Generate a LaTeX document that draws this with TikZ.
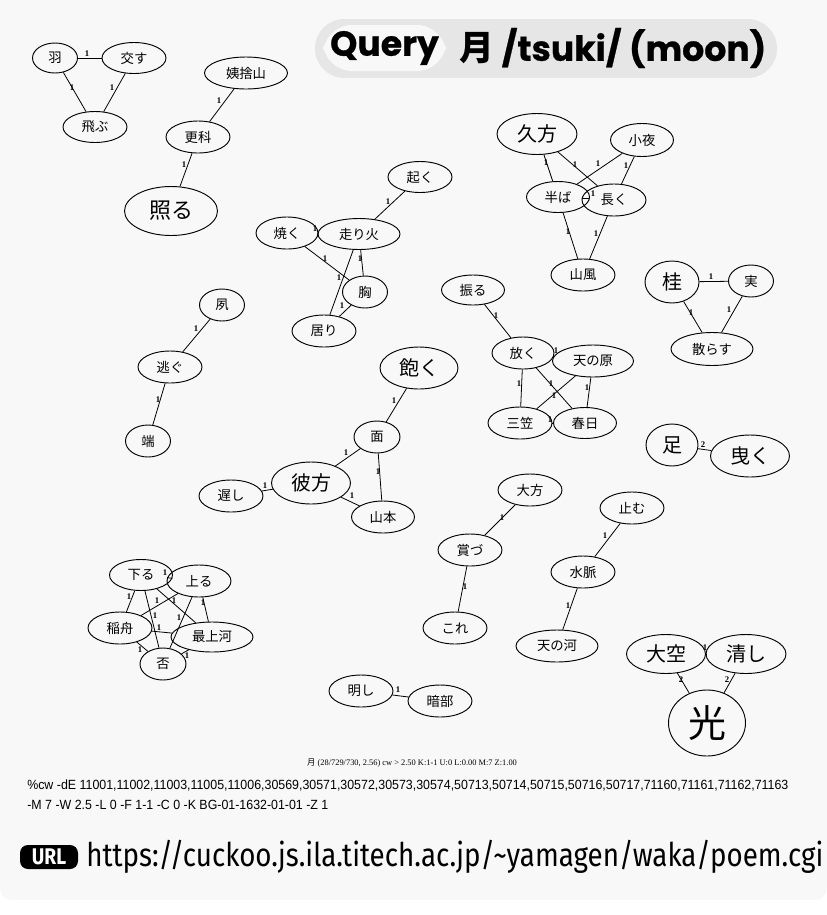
\documentclass[tikz,border=0pt]{standalone}
\usepackage{fontspec}
\usetikzlibrary{shapes.geometric}
\newfontfamily\jp{Noto Sans CJK JP}
\newfontfamily\pop{Poppins}[BoldFeatures={FakeBold=0.6}]
\newfontfamily\fira{Fira Sans}[FakeStretch=0.85]
\newfontfamily\lsans{Liberation Sans}[FakeStretch=0.93]
\newfontfamily\lserif{Liberation Serif}
\definecolor{bgc}{HTML}{F8F8F8}
\definecolor{panelc}{HTML}{E6E6E6}
\begin{document}
\begin{tikzpicture}[x=0.75pt,y=-0.75pt,
  wn/.style={ellipse, draw, line width=0.7pt, inner sep=0pt, font=\jp\fontsize{10}{11}\selectfont},
  wl/.style={wn, font=\jp\fontsize{15}{17}\selectfont},
  sz/.style 2 args={minimum width=#1*0.75pt, minimum height=#2*0.75pt},
  ed/.style={line width=0.6pt},
  elab/.style={font=\lserif\bfseries\fontsize{6.5}{6.5}\selectfont, inner sep=0pt}]
\useasboundingbox (0,0) rectangle (827,915);
\fill[white] (0,0) rectangle (827,915);
\fill[bgc] (0,0) rectangle (827,880);
\fill[bgc, rounded corners=9pt] (0,860) rectangle (827,900);
% title
\fill[panelc, rounded corners=22pt] (315,19) rectangle (777,78);
\fill[bgc, rounded corners=22pt] (323,25) rectangle (446,71);
\node (q) at (384.5,48) {\pop\bfseries\fontsize{26}{28}\selectfont Query};
\node (qt) at (613,48) {\pop\bfseries\fontsize{26}{28}\selectfont {\jp\bfseries 月} /tsuki/ (moon)};
% nodes
\node[wn, sz={45}{30}] (h1) at (55,58) {羽};
\node[wn, sz={64}{31}] (h2) at (134,58) {交す};
\node[wn, sz={64}{31}] (h3) at (95,127) {飛ぶ};
\node[wn, sz={83}{32}] (o1) at (246,73) {姨捨山};
\node[wn, sz={64}{32}] (o2) at (198,137) {更科};
\node[wl, sz={93}{49}, font=\jp\fontsize{16.5}{18}\selectfont] (o3) at (171,211) {照る};
\node[wn, sz={64}{31}] (a1) at (420,177) {起く};
\node[wn, sz={82}{31}] (a2) at (359,234) {走り火};
\node[wn, sz={62}{32}] (a3) at (287,233) {焼く};
\node[wn, sz={45}{32}] (a4) at (365,292) {胸};
\node[wn, sz={64}{32}] (a5) at (324,331) {居り};
\node[wl, sz={80}{41}] (b1) at (537,134) {久方};
\node[wn, sz={63}{33}] (b2) at (642,140) {小夜};
\node[wn, sz={63}{31}] (b3) at (558,197) {半ば};
\node[wn, sz={64}{32}] (b4) at (614,200) {長く};
\node[wn, sz={64}{32}] (b5) at (583,275) {山風};
\node[wn, sz={63}{30}] (c1) at (473,290) {振る};
\node[wn, sz={62}{32}] (c2) at (523,353) {放く};
\node[wn, sz={81}{32}] (c3) at (593,361) {天の原};
\node[wn, sz={64}{32}] (c4) at (520,423) {三笠};
\node[wn, sz={63}{31}] (c5) at (585,423) {春日};
\node[wl, sz={54}{42}] (d1) at (672,282) {桂};
\node[wn, sz={45}{32}] (d2) at (751,281) {実};
\node[wn, sz={82}{33}] (d3) at (712,349) {散らす};
\node[wn, sz={45}{32}] (e1) at (222,305) {夙};
\node[wn, sz={64}{32}] (e2) at (170,367) {逃ぐ};
\node[wn, sz={45}{32}] (e3) at (148,441) {端};
\node[wl, sz={78}{42}] (f1) at (419,368) {飽く};
\node[wn, sz={46}{32}] (f2) at (377,437) {面};
\node[wl, sz={79}{42}] (f3) at (311,483) {彼方};
\node[wn, sz={64}{32}] (f4) at (231,496) {遅し};
\node[wn, sz={63}{32}] (f5) at (383,517) {山本};
\node[wl, sz={52}{42}] (g1) at (672,445) {足};
\node[wl, sz={79}{42}] (g2) at (750,456) {曳く};
\node[wn, sz={64}{32}] (i1) at (530,490) {大方};
\node[wn, sz={64}{32}] (i2) at (470,550) {賞づ};
\node[wn, sz={64}{32}] (i3) at (455,628) {これ};
\node[wn, sz={64}{32}] (j1) at (632,508) {止む};
\node[wn, sz={64}{32}] (j2) at (583,572) {水脈};
\node[wn, sz={82}{32}] (j3) at (557,646) {天の河};
\node[wn, sz={63}{31}] (k1) at (141,575) {下る};
\node[wn, sz={64}{32}] (k2) at (199,581) {上る};
\node[wn, sz={64}{32}] (k3) at (120,628) {稲舟};
\node[wn, sz={82}{30}] (k4) at (212,637) {最上河};
\node[wn, sz={46}{32}] (k5) at (163,664) {否};
\node[wn, sz={64}{32}] (m1) at (361,691) {明し};
\node[wn, sz={64}{32}] (m2) at (440,701) {暗部};
\node[wl, sz={79}{39}] (n1) at (666,654) {大空};
\node[wl, sz={80}{39}] (n2) at (746,654) {清し};
\node[wl, sz={77}{66}, font=\jp\fontsize{28.5}{30}\selectfont] (n3) at (707,723) {光};
% edges
\draw[ed] (h1) -- (h2); \draw[ed] (h1) -- (h3); \draw[ed] (h2) -- (h3);
\draw[ed] (o1) -- (o2); \draw[ed] (o2) -- (o3);
\draw[ed] (a1) -- (a2); \draw[ed] (a3) -- (a2); \draw[ed] (a3) -- (a4);
\draw[ed] (a2) -- (a4); \draw[ed] (a2) -- (a5); \draw[ed] (a4) -- (a5);
\draw[ed] (b1) -- (b3); \draw[ed] (b1) -- (b4); \draw[ed] (b2) -- (b3);
\draw[ed] (b2) -- (b4); \draw[ed] (b3) -- (b4); \draw[ed] (b3) -- (b5); \draw[ed] (b4) -- (b5);
\draw[ed] (c1) -- (c2); \draw[ed] (c2) -- (c3); \draw[ed] (c2) -- (c4); \draw[ed] (c2) -- (c5);
\draw[ed] (c3) -- (c4); \draw[ed] (c3) -- (c5); \draw[ed] (c4) -- (c5);
\draw[ed] (d1) -- (d2); \draw[ed] (d1) -- (d3); \draw[ed] (d2) -- (d3);
\draw[ed] (e1) -- (e2); \draw[ed] (e2) -- (e3);
\draw[ed] (f1) -- (f2); \draw[ed] (f2) -- (f3); \draw[ed] (f2) -- (f5);
\draw[ed] (f3) -- (f4); \draw[ed] (f3) -- (f5);
\draw[ed] (g1) -- (g2);
\draw[ed] (i1) -- (i2); \draw[ed] (i2) -- (i3);
\draw[ed] (j1) -- (j2); \draw[ed] (j2) -- (j3);
\draw[ed] (k1) -- (k2); \draw[ed] (k1) -- (k3); \draw[ed] (k1) -- (k5); \draw[ed] (k1) -- (k4);
\draw[ed] (k2) -- (k3); \draw[ed] (k2) -- (k4); \draw[ed] (k2) -- (k5);
\draw[ed] (k3) -- (k4); \draw[ed] (k3) -- (k5); \draw[ed] (k4) -- (k5);
\draw[ed] (m1) -- (m2);
\draw[ed] (n1) -- (n2); \draw[ed] (n1) -- (n3); \draw[ed] (n2) -- (n3);
% edge labels
\node[elab] (l1) at (87,54) {1};
\node[elab] (l2) at (72,88) {1};
\node[elab] (l3) at (112,88) {1};
\node[elab] (l4) at (219,101) {1};
\node[elab] (l5) at (184,165) {1};
\node[elab] (l6) at (388,202) {1};
\node[elab] (l7) at (315,229) {1};
\node[elab] (l8) at (325,259) {1};
\node[elab] (l9) at (360,259) {1};
\node[elab] (l10) at (339,278) {1};
\node[elab] (l11) at (342,306) {1};
\node[elab] (l12) at (546,163) {1};
\node[elab] (l13) at (575,165) {1};
\node[elab] (l14) at (598,164) {1};
\node[elab] (l15) at (626,166) {1};
\node[elab] (l16) at (593,194) {1};
\node[elab] (l17) at (568,232) {1};
\node[elab] (l18) at (596,234) {1};
\node[elab] (l19) at (496,316) {1};
\node[elab] (l20) at (556,351) {1};
\node[elab] (l21) at (519,384) {1};
\node[elab] (l22) at (551,384) {1};
\node[elab] (l23) at (554,396) {1};
\node[elab] (l24) at (587,388) {1};
\node[elab] (l25) at (550,420) {1};
\node[elab] (l26) at (711,277) {1};
\node[elab] (l27) at (691,313) {1};
\node[elab] (l28) at (729,310) {1};
\node[elab] (l29) at (196,329) {1};
\node[elab] (l30) at (158,400) {1};
\node[elab] (l31) at (394,401) {1};
\node[elab] (l32) at (346,453) {1};
\node[elab] (l33) at (378,472) {1};
\node[elab] (l34) at (265,486) {1};
\node[elab] (l35) at (352,496) {1};
\node[elab] (l36) at (703,445) {2};
\node[elab] (l37) at (502,518) {1};
\node[elab] (l38) at (465,587) {1};
\node[elab] (l39) at (605,536) {1};
\node[elab] (l40) at (568,606) {1};
\node[elab] (l41) at (165,573) {1};
\node[elab] (l42) at (129,597) {1};
\node[elab] (l43) at (155,616) {1};
\node[elab] (l44) at (174,601) {1};
\node[elab] (l45) at (157,601) {1};
\node[elab] (l46) at (203,603) {1};
\node[elab] (l47) at (179,618) {1};
\node[elab] (l48) at (159,628) {1};
\node[elab] (l49) at (140,650) {1};
\node[elab] (l50) at (187,656) {1};
\node[elab] (l51) at (398,690) {1};
\node[elab] (l52) at (705,648) {1};
\node[elab] (l53) at (681,680) {2};
\node[elab] (l54) at (727,680) {2};
% footer
\node (ft) at (412,763) {\lserif\fontsize{6.3}{7}\selectfont {\jp 月} (28/729/730, 2.56) cw > 2.50 K:1-1 U:0 L:0.00 M:7 Z:1.00};
\node[anchor=west, inner sep=0pt] (cmd1) at (27,786) {\lsans\fontsize{10}{11}\selectfont \%cw -dE 11001,11002,11003,11005,11006,30569,30571,30572,30573,30574,50713,50714,50715,50716,50717,71160,71161,71162,71163};
\node[anchor=west, inner sep=0pt] (cmd2) at (27,805) {\lsans\fontsize{10}{11}\selectfont -M 7 -W 2.5 -L 0 -F 1-1 -C 0 -K BG-01-1632-01-01 -Z 1};
\fill[black, rounded corners=6pt] (20,845) rectangle (78,869);
\node[text=white] (urlk) at (49,857) {\fira\bfseries\fontsize{17}{18}\selectfont URL};
\node[anchor=west, inner sep=0pt] (url) at (86,857) {\fira\fontsize{24.5}{26}\selectfont https://cuckoo.js.ila.titech.ac.jp/\textasciitilde yamagen/waka/poem.cgi};
\end{tikzpicture}
\end{document}
